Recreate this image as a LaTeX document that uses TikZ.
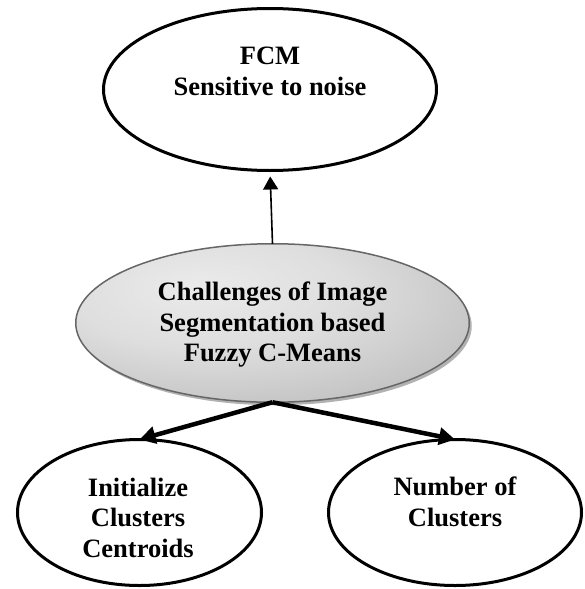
\documentclass[tikz,border=0pt]{standalone}
\usepackage{fontspec}
\setmainfont{Liberation Serif}
\usetikzlibrary{arrows.meta,shapes.geometric,shadows}

\definecolor{ovaledge}{gray}{0.40}
\definecolor{ovalshadow}{gray}{0.70}
% light centre shifted to the upper left, darker towards the rim
\pgfdeclareradialshading{ovalshade}{\pgfpoint{-10bp}{12bp}}{%
  color(0bp)=(gray!16); color(18bp)=(gray!26); color(45bp)=(gray!58); color(62bp)=(gray!72); color(100bp)=(gray!72)}

\tikzset{
  oval/.style={ellipse, draw, line width=3pt, inner sep=0pt, outer sep=0pt},
  hub/.style={ellipse, draw=ovaledge, line width=1.5pt, inner sep=0pt, outer sep=0pt,
    shading=ovalshade,
    drop shadow={shadow xshift=2.5pt, shadow yshift=-3pt, opacity=1, fill=ovalshadow}},
  lbl/.style={font=\bfseries\fontsize{26.5}{30.5}\selectfont, align=center, inner sep=0pt},
  thinarrow/.style={line width=1.6pt, -{Triangle[length=13pt,width=15pt]}},
  thickarrow/.style={line width=4.5pt, -{Triangle[length=16pt,width=17pt]}}
}

\begin{document}
\begin{tikzpicture}[x=1pt, y=-1pt]
  \path[use as bounding box] (0,0) rectangle (585,589);

  % ellipses
  \node[oval, minimum width=333pt, minimum height=162pt] (fcm) at (270,89.5) {};
  \node[hub, minimum width=393.5pt, minimum height=158.5pt] (cm) at (272.5,323) {};
  \node[oval, minimum width=244pt, minimum height=146pt] (init) at (139.5,512.5) {};
  \node[oval, minimum width=253pt, minimum height=146pt] (num) at (455,512.5) {};

  % texts
  \node[lbl] (fcmtxt) at (270,71.5) {FCM\\Sensitive to noise};
  \node[lbl] (cmtxt) at (272.5,325) {Challenges of Image\\Segmentation based\\Fuzzy C-Means};
  \node[lbl] (inittxt) at (138,517.5) {Initialize\\Clusters\\Centroids};
  \node[lbl] (numtxt) at (455,502) {Number of\\Clusters};

  % connectors
  \draw[thinarrow, shorten >=6pt] (cm.north) -- (fcm.south);
  \draw[thickarrow] (cm.south) -- (init.north);
  \draw[thickarrow] (cm.south) -- (num.north);
\end{tikzpicture}
\end{document}
